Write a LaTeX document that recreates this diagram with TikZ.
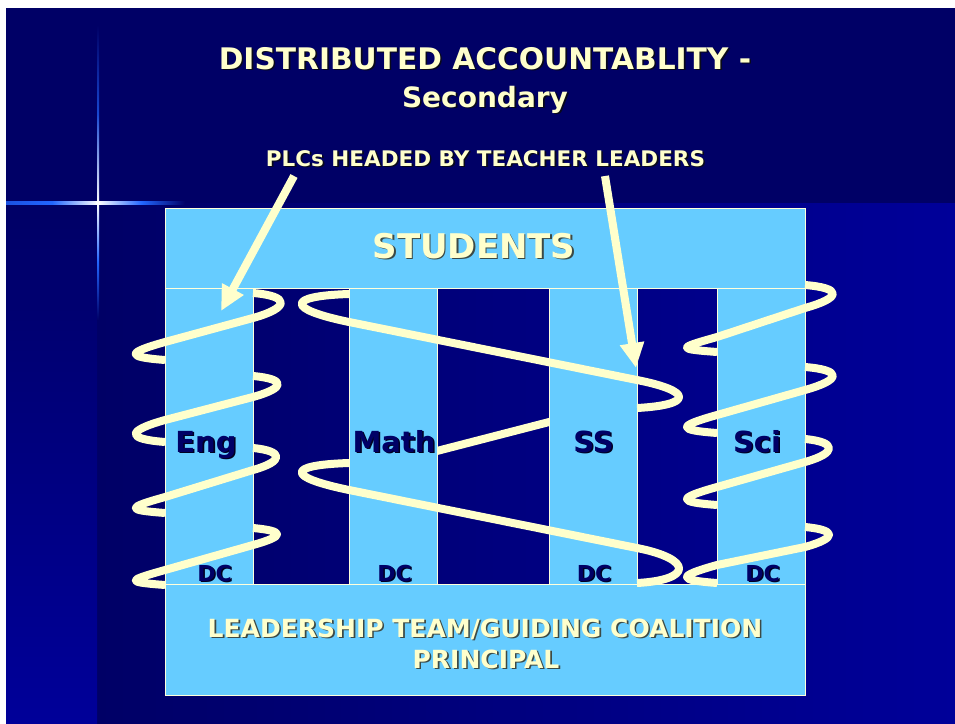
\documentclass[tikz,border=0pt]{standalone}
\usepackage{fontspec}
\setmainfont{DejaVu Sans}
\usetikzlibrary{arrows.meta}

\definecolor{navy}{HTML}{000066}
\definecolor{royal}{HTML}{000099}
\definecolor{sky}{HTML}{66CCFF}
\definecolor{cream}{HTML}{FFFFCC}
\definecolor{glow}{HTML}{2266FF}
\definecolor{darkshade}{HTML}{0A0A1A}
\definecolor{boxshade}{HTML}{3C4A46}
\definecolor{labelshade}{HTML}{000022}

% text with a small drop shadow behind it
\newcommand{\shadowed}[2]{\makebox[0pt][l]{\hspace*{1.6pt}\raisebox{-1.6pt}{\textcolor{#1}{#2}}}#2}

% one visible turn of a coil round a pillar:
% #1 left edge, #2 right edge, #3 start y, #4 y at right edge,
% #5 y at left edge, #6 end y, #7 right bulge, #8 left bulge
\newcommand{\coilturn}[8]{%
  \draw[coilline] (#2,#3)
    .. controls ({#2+#7},{#3+3}) and ({#2+#7},{#4-0.28*#7}) .. (#2,#4)
    -- (#1,#5)
    .. controls ({#1-#8},{#5+0.28*#8}) and ({#1-#8},{#6-3}) .. (#1,#6);}

% the long turn that wraps Math and SS together
\newcommand{\wideturn}[4]{%
  \draw[coilline] (349,#1)
    .. controls (286,{#1+2}) and (286,{#2-13}) .. (349,#2)
    -- (637,#3)
    .. controls (693,{#3+11}) and (693,{#4-3}) .. (637,#4);}

\tikzset{
  panel/.style={draw=cream!70!white, line width=0.8pt, fill=sky, inner sep=0pt, anchor=north west},
  pillar/.style={panel, minimum width=88pt, minimum height=296pt},
  coilline/.style={draw=cream, line width=8pt, line cap=butt, line join=round},
  pointer/.style={draw=cream, line width=8pt, line cap=butt, -{Triangle[length=25pt,width=23pt]}, fill=cream},
  headtext/.style={text=cream, inner sep=0pt, anchor=base, font=\bfseries},
  colname/.style={text=navy, inner sep=0pt, anchor=base, font=\bfseries\fontsize{29}{30}\selectfont},
  dcname/.style={text=navy, inner sep=0pt, anchor=base, font=\bfseries\fontsize{22}{24}\selectfont},
}

\begin{document}
\begin{tikzpicture}[x=1pt, y=-1pt]
\useasboundingbox (0,0) rectangle (955,723);

% backdrop
\fill[white] (0,0) rectangle (955,723);
\shade[left color=navy, right color=royal] (97,203) rectangle (955,723);
\shade[top color=navy, bottom color=royal] (6,203) rectangle (97,723);
\fill[navy] (6,8) rectangle (955,203);

% light flare
\shade[top color=navy, bottom color=white, middle color=glow!70!navy] (97,25) rectangle (99.2,203);
\shade[top color=white, bottom color=navy, middle color=glow] (97,203) rectangle (99.2,320);
\shade[left color=glow!80!navy, right color=white, middle color=glow] (6,201.3) rectangle (98,204.3);
\shade[left color=white, right color=navy, middle color=glow] (98,201.3) rectangle (185,204.3);
\fill[white] (98,202.8) circle (2.2pt);

% headings
\node[headtext, font=\bfseries\fontsize{29.7}{32}\selectfont] (title) at (485,69)
  {\shadowed{darkshade}{DISTRIBUTED ACCOUNTABLITY -}};
\node[headtext, font=\bfseries\fontsize{28}{30}\selectfont] (subtitle) at (485,107)
  {\shadowed{darkshade}{Secondary}};
\node[headtext, font=\bfseries\fontsize{21.5}{24}\selectfont] (plc) at (485.5,166)
  {\shadowed{darkshade}{PLCs HEADED BY TEACHER LEADERS}};

% the structure
\node[panel, minimum width=640pt, minimum height=80pt] (students) at (165,208) {};

% back strand between Math and SS, partly hidden by the pillars
\draw[coilline] (565,417.9) -- (421,455.1);

\node[pillar] (eng) at (165,288) {};
\node[pillar] (math) at (349,288) {};
\node[pillar] (ss) at (549,288) {};
\node[pillar] (sci) at (717,288) {};
\node[panel, minimum width=640pt, minimum height=111pt] (base) at (165,584) {};

% coils round Eng
\coilturn{165}{253}{293}{318}{342}{360}{37}{39}
\coilturn{165}{253}{376}{397}{420}{442}{33}{39}
\coilturn{165}{253}{448}{470}{497}{513}{31}{39}
\coilturn{165}{253}{528}{545}{570}{585}{32}{39}

% coils round Sci
\coilturn{717}{805}{285}{308}{337}{352}{37}{40}
\coilturn{717}{805}{367}{390}{415}{433}{37}{40}
\coilturn{717}{805}{439}{462}{487}{505}{32}{40}
\coilturn{717}{805}{527}{547}{565}{583}{32}{40}

% coil round Math and SS
\wideturn{294}{322}{380}{408}
\wideturn{463}{490}{548}{583}

% labels
\node[headtext, font=\bfseries\fontsize{34}{36}\selectfont] (studentstext) at (474,258)
  {\shadowed{boxshade}{STUDENTS}};
\node[colname] (engtext) at (206,452) {\shadowed{labelshade}{Eng}};
\node[colname] (mathtext) at (394,452) {\shadowed{labelshade}{Math}};
\node[colname] (sstext) at (593.5,452) {\shadowed{labelshade}{SS}};
\node[colname] (scitext) at (757,452) {\shadowed{labelshade}{Sci}};
\node[dcname] (engdc) at (214.5,581) {\shadowed{labelshade}{DC}};
\node[dcname] (mathdc) at (394.5,581) {\shadowed{labelshade}{DC}};
\node[dcname] (ssdc) at (594,581) {\shadowed{labelshade}{DC}};
\node[dcname] (scidc) at (762.5,581) {\shadowed{labelshade}{DC}};
\node[headtext, font=\bfseries\fontsize{25}{27}\selectfont] (leadtext) at (485,637)
  {\shadowed{boxshade}{LEADERSHIP TEAM/GUIDING COALITION}};
\node[headtext, font=\bfseries\fontsize{25}{27}\selectfont] (principal) at (486,668)
  {\shadowed{boxshade}{PRINCIPAL}};

% pointers from the PLC heading
\coordinate (plcleft) at (294,176);
\coordinate (plcright) at (605,176);
\coordinate (engpoint) at (221,311);
\coordinate (sspoint) at (636,368);
\draw[pointer] (plcleft) -- (engpoint);
\draw[pointer] (plcright) -- (sspoint);
\end{tikzpicture}
\end{document}
